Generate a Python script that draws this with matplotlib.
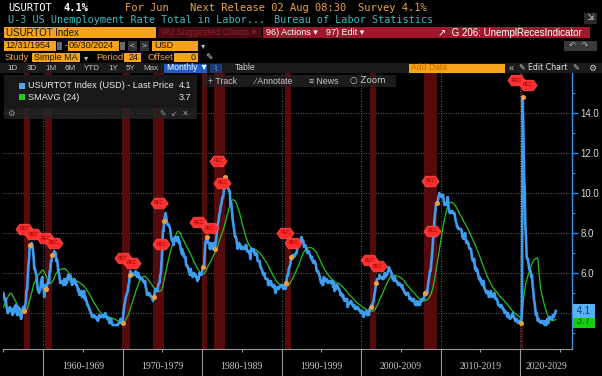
import pandas as pd
import matplotlib
matplotlib.use("Agg")
import matplotlib.pyplot as plt
import matplotlib.transforms as mtransforms
from matplotlib.patches import Rectangle
from matplotlib.path import Path
from matplotlib.ticker import FixedLocator, NullFormatter

# monthly U-3 unemployment rate (%), Jan 1953 - Jun 2024
# (1953-54 only feeds the 24 month average, the chart starts 12/31/1954)
rate_1950s = [
    3.4, 2.9, 2.6, 2.7, 2.5, 2.5, 2.6, 2.7, 2.9, 3.1, 3.5, 4.5,
    4.9, 5.2, 5.7, 5.9, 5.9, 5.6, 5.8, 6.0, 6.1, 5.7, 5.3, 5.0,
    4.9, 4.7, 4.6, 4.7, 4.3, 4.2, 4.0, 4.2, 4.1, 4.3, 4.2, 4.2,
    4.0, 3.9, 4.2, 4.0, 4.3, 4.3, 4.4, 4.1, 3.9, 3.9, 4.3, 4.2,
    4.2, 3.9, 3.7, 3.9, 4.1, 4.3, 4.2, 4.1, 4.4, 4.5, 5.1, 5.2,
    5.8, 6.4, 6.7, 7.4, 7.4, 7.3, 7.5, 7.4, 7.1, 6.7, 6.2, 6.2,
    6.0, 5.9, 5.6, 5.2, 5.1, 5.0, 5.1, 5.2, 5.5, 5.7, 5.8, 5.3,
]
rate_1960s = [
    5.2, 4.8, 5.4, 5.2, 5.1, 5.4, 5.5, 5.6, 5.5, 6.1, 6.1, 6.6,
    6.6, 6.9, 6.9, 7.0, 7.1, 6.9, 7.0, 6.6, 6.7, 6.5, 6.1, 6.0,
    5.8, 5.5, 5.6, 5.6, 5.5, 5.5, 5.4, 5.7, 5.6, 5.4, 5.7, 5.5,
    5.7, 5.9, 5.7, 5.7, 5.9, 5.6, 5.6, 5.4, 5.5, 5.5, 5.7, 5.5,
    5.6, 5.4, 5.4, 5.3, 5.1, 5.2, 4.9, 5.0, 5.1, 5.1, 4.8, 5.0,
    4.9, 5.1, 4.7, 4.8, 4.6, 4.6, 4.4, 4.4, 4.3, 4.2, 4.1, 4.0,
    4.0, 3.8, 3.8, 3.8, 3.9, 3.8, 3.8, 3.8, 3.7, 3.7, 3.6, 3.8,
    3.9, 3.8, 3.8, 3.8, 3.8, 3.9, 3.8, 3.8, 3.8, 4.0, 3.9, 3.8,
    3.7, 3.8, 3.7, 3.5, 3.5, 3.7, 3.7, 3.5, 3.4, 3.4, 3.4, 3.4,
    3.4, 3.4, 3.4, 3.4, 3.4, 3.5, 3.5, 3.5, 3.7, 3.7, 3.5, 3.5,
]
rate_1970s = [
    3.9, 4.2, 4.4, 4.6, 4.8, 4.9, 5.0, 5.1, 5.4, 5.5, 5.9, 6.1,
    5.9, 5.9, 6.0, 5.9, 5.9, 5.9, 6.0, 6.1, 6.0, 5.8, 6.0, 6.0,
    5.8, 5.7, 5.8, 5.7, 5.7, 5.7, 5.6, 5.6, 5.5, 5.6, 5.3, 5.2,
    4.9, 5.0, 4.9, 5.0, 4.9, 4.9, 4.8, 4.8, 4.8, 4.6, 4.8, 4.9,
    5.1, 5.2, 5.1, 5.1, 5.1, 5.4, 5.5, 5.5, 5.9, 6.0, 6.6, 7.2,
    8.1, 8.1, 8.6, 8.8, 9.0, 8.8, 8.6, 8.4, 8.4, 8.4, 8.3, 8.2,
    7.9, 7.7, 7.6, 7.7, 7.4, 7.6, 7.8, 7.8, 7.6, 7.7, 7.8, 7.8,
    7.5, 7.6, 7.4, 7.2, 7.0, 7.2, 6.9, 7.0, 6.8, 6.8, 6.8, 6.4,
    6.4, 6.3, 6.3, 6.1, 6.0, 5.9, 6.2, 5.9, 6.0, 5.8, 5.9, 6.0,
    5.9, 5.9, 5.8, 5.8, 5.6, 5.7, 5.7, 6.0, 5.9, 6.0, 5.9, 6.0,
]
rate_1980s = [
    6.3, 6.3, 6.3, 6.9, 7.5, 7.6, 7.8, 7.7, 7.5, 7.5, 7.5, 7.2,
    7.5, 7.4, 7.4, 7.2, 7.5, 7.5, 7.2, 7.4, 7.6, 7.9, 8.3, 8.5,
    8.6, 8.9, 9.0, 9.3, 9.4, 9.6, 9.8, 9.8, 10.1, 10.4, 10.8, 10.8,
    10.4, 10.4, 10.3, 10.2, 10.1, 10.1, 9.4, 9.5, 9.2, 8.8, 8.5, 8.3,
    8.0, 7.8, 7.8, 7.7, 7.4, 7.2, 7.5, 7.5, 7.3, 7.4, 7.2, 7.3,
    7.3, 7.2, 7.2, 7.3, 7.2, 7.4, 7.4, 7.1, 7.1, 7.1, 7.0, 7.0,
    6.7, 7.2, 7.2, 7.1, 7.2, 7.2, 7.0, 6.9, 7.0, 7.0, 6.9, 6.6,
    6.6, 6.6, 6.6, 6.3, 6.3, 6.2, 6.1, 6.0, 5.9, 6.0, 5.8, 5.7,
    5.7, 5.7, 5.7, 5.4, 5.6, 5.4, 5.4, 5.6, 5.4, 5.4, 5.3, 5.3,
    5.4, 5.2, 5.0, 5.2, 5.2, 5.3, 5.2, 5.2, 5.3, 5.3, 5.4, 5.4,
]
rate_1990s = [
    5.4, 5.3, 5.2, 5.4, 5.4, 5.2, 5.5, 5.7, 5.9, 5.9, 6.2, 6.3,
    6.4, 6.6, 6.8, 6.7, 6.9, 6.9, 6.8, 6.9, 6.9, 7.0, 7.0, 7.3,
    7.3, 7.4, 7.4, 7.4, 7.6, 7.8, 7.7, 7.6, 7.6, 7.3, 7.4, 7.4,
    7.3, 7.1, 7.0, 7.1, 7.1, 7.0, 6.9, 6.8, 6.7, 6.8, 6.6, 6.5,
    6.6, 6.6, 6.5, 6.4, 6.1, 6.1, 6.1, 6.0, 5.9, 5.8, 5.6, 5.5,
    5.6, 5.4, 5.4, 5.8, 5.6, 5.6, 5.7, 5.7, 5.6, 5.5, 5.6, 5.6,
    5.6, 5.5, 5.5, 5.6, 5.6, 5.3, 5.5, 5.1, 5.2, 5.2, 5.4, 5.4,
    5.3, 5.2, 5.2, 5.1, 4.9, 5.0, 4.9, 4.8, 4.9, 4.7, 4.6, 4.7,
    4.6, 4.6, 4.7, 4.3, 4.4, 4.5, 4.5, 4.5, 4.6, 4.5, 4.4, 4.4,
    4.3, 4.4, 4.2, 4.3, 4.2, 4.3, 4.3, 4.2, 4.2, 4.1, 4.1, 4.0,
]
rate_2000s = [
    4.0, 4.1, 4.0, 3.8, 4.0, 4.0, 4.0, 4.1, 3.9, 3.9, 3.9, 3.9,
    4.2, 4.2, 4.3, 4.4, 4.3, 4.5, 4.6, 4.9, 5.0, 5.3, 5.5, 5.7,
    5.7, 5.7, 5.7, 5.9, 5.8, 5.8, 5.8, 5.7, 5.7, 5.7, 5.9, 6.0,
    5.8, 5.9, 5.9, 6.0, 6.1, 6.3, 6.2, 6.1, 6.1, 6.0, 5.8, 5.7,
    5.7, 5.6, 5.8, 5.6, 5.6, 5.6, 5.5, 5.4, 5.4, 5.5, 5.4, 5.4,
    5.3, 5.4, 5.2, 5.2, 5.1, 5.0, 5.0, 4.9, 5.0, 5.0, 5.0, 4.9,
    4.7, 4.8, 4.7, 4.7, 4.6, 4.6, 4.7, 4.7, 4.5, 4.4, 4.5, 4.4,
    4.6, 4.5, 4.4, 4.5, 4.4, 4.6, 4.7, 4.6, 4.7, 4.7, 4.7, 5.0,
    5.0, 4.9, 5.1, 5.0, 5.4, 5.6, 5.8, 6.1, 6.1, 6.5, 6.8, 7.3,
    7.8, 8.3, 8.7, 9.0, 9.4, 9.5, 9.5, 9.6, 9.8, 10.0, 9.9, 9.9,
]
rate_2010s = [
    9.8, 9.8, 9.9, 9.9, 9.6, 9.4, 9.4, 9.5, 9.5, 9.4, 9.8, 9.3,
    9.1, 9.0, 9.0, 9.1, 9.0, 9.1, 9.0, 9.0, 9.0, 8.8, 8.6, 8.5,
    8.3, 8.3, 8.2, 8.2, 8.2, 8.2, 8.2, 8.1, 7.8, 7.8, 7.7, 7.9,
    8.0, 7.7, 7.5, 7.6, 7.5, 7.5, 7.3, 7.2, 7.2, 7.2, 6.9, 6.7,
    6.6, 6.7, 6.7, 6.2, 6.3, 6.1, 6.2, 6.1, 5.9, 5.7, 5.8, 5.6,
    5.7, 5.5, 5.4, 5.4, 5.6, 5.3, 5.2, 5.1, 5.0, 5.0, 5.1, 5.0,
    4.8, 4.9, 5.0, 5.1, 4.8, 4.9, 4.8, 4.9, 5.0, 4.9, 4.7, 4.7,
    4.7, 4.6, 4.4, 4.4, 4.4, 4.3, 4.3, 4.4, 4.3, 4.2, 4.2, 4.1,
    4.0, 4.1, 4.0, 4.0, 3.8, 4.0, 3.8, 3.8, 3.7, 3.8, 3.8, 3.9,
    4.0, 3.8, 3.8, 3.7, 3.6, 3.6, 3.7, 3.6, 3.5, 3.6, 3.6, 3.6,
]
rate_2020s = [
    3.5, 3.5, 4.4, 14.8, 13.2, 11.0, 10.2, 8.4, 7.8, 6.8, 6.7, 6.7,
    6.4, 6.2, 6.1, 6.1, 5.8, 5.9, 5.4, 5.1, 4.7, 4.5, 4.2, 3.9,
    4.0, 3.8, 3.6, 3.7, 3.6, 3.6, 3.5, 3.6, 3.5, 3.6, 3.6, 3.5,
    3.4, 3.6, 3.5, 3.4, 3.7, 3.6, 3.5, 3.8, 3.8, 3.8, 3.7, 3.7,
    3.7, 3.9, 3.8, 3.9, 4.0, 4.1,
]

# NBER recessions (first month, last month)
rec_start = ["1957-08", "1960-04", "1969-12", "1973-11", "1980-01",
             "1981-07", "1990-07", "2001-03", "2007-12", "2020-02"]
rec_end = ["1958-04", "1961-02", "1970-11", "1975-03", "1980-07",
           "1982-11", "1991-03", "2001-11", "2009-06", "2020-04"]

# "REC" flags as they sit on the chart
flag_dates = ["1957-08", "1958-10", "1960-04", "1961-05", "1970-01", "1971-03",
              "1974-07", "1974-11", "1979-07", "1980-12", "1982-01", "1982-07",
              "1990-06", "1991-06", "2001-01", "2002-02", "2008-09", "2008-12",
              "2019-07", "2020-12"]
flag_levels = [8.2, 7.95, 7.75, 7.5, 6.75, 6.5, 9.5, 7.45, 8.55, 8.25,
               11.6, 10.5, 8.0, 7.5, 6.65, 6.35, 10.6, 8.1, 15.65, 15.4]

decades = [1960, 1970, 1980, 1990, 2000, 2010, 2020]
y_ticks = [4, 6, 8, 10, 12, 14]

rate = rate_1950s + rate_1960s + rate_1970s + rate_1980s + rate_1990s + rate_2000s + rate_2010s + rate_2020s
months = pd.period_range("1953-01", periods=len(rate), freq="M")
s = pd.Series(rate, index=months)
sma = s.rolling(24).mean()
dates = months.to_timestamp(how="end").normalize()
show = months >= pd.Period("1954-12", "M")

W, H = 602, 376
SANS = ["Liberation Sans", "DejaVu Sans"]
MONO = ["DejaVu Sans Mono", "DejaVu Sans"]
SYM = ["DejaVu Sans", "Noto Sans"]
ORANGE = "#f5a31c"
AMBER_TXT = "#f0a43c"
TEAL = "#3bbcc4"
BLUE = "#3d9df0"
GREEN = "#22c022"


def fx(x):
    return x / W


def fy(y):
    return 1 - y / H


def rect(x0, y0, x1, y1, color, alpha=1.0, z=1):
    fig.add_artist(Rectangle((fx(x0), fy(y1)), (x1 - x0) / W, (y1 - y0) / H,
                             transform=fig.transFigure, facecolor=color,
                             edgecolor="none", alpha=alpha, zorder=z))


def txt(x, y, s_, color, size, family=SANS, z=5, **kw):
    fig.text(fx(x), fy(y), s_, color=color, fontsize=size, family=family,
             va="center", zorder=z, **kw)


fig = plt.figure(figsize=(6.02, 3.76), dpi=100, facecolor="black")
ax = fig.add_axes([fx(3), fy(349), (572 - 3) / W, (349 - 73) / H])
ax.set_facecolor("black")

# recession bands
for a, b in zip(rec_start, rec_end):
    ax.axvspan(pd.Period(a, "M").to_timestamp(how="start"),
               pd.Period(b, "M").to_timestamp(how="end"),
               color="#5a0c0c", alpha=0.95, lw=0, zorder=1)

ax.plot(dates[show], sma[show], color=GREEN, lw=0.9, zorder=3)
ax.plot(dates[show], s[show], color=BLUE, lw=1.9, zorder=4)

# orange dots where each recession starts and ends
dot_p = [pd.Period(d, "M") for d in rec_start + rec_end]
ax.plot([p.to_timestamp(how="end").normalize() for p in dot_p], [s[p] for p in dot_p],
        "o", ms=2.6, color="#e8a040", zorder=5)

# REC flags
flag_shape = Path([(-1, 0), (-0.55, 0.62), (0.55, 0.62), (1, 0), (0.55, -0.62),
                   (-0.55, -0.62), (-1, 0)], closed=True)
flag_x = [pd.Timestamp(d + "-15") for d in flag_dates]
ax.plot(flag_x, flag_levels, ls="none", marker=flag_shape, ms=12.5,
        color="#ff2e2e", mec="#ff5a5a", mew=0.4, zorder=6)
for fx_, fl in zip(flag_x, flag_levels):
    ax.text(fx_, fl, "REC", fontsize=3.4, color="#8a0000", ha="center",
            va="center", zorder=7, family=SANS)

ax.set_xlim(pd.Timestamp("1954-12-20"), pd.Timestamp("2026-07-15"))
ax.set_ylim(2.2, 16.0)

# axes styling
for side in ["left", "top"]:
    ax.spines[side].set_visible(False)
ax.spines["right"].set_color("#3a8ee0")
ax.spines["right"].set_linewidth(1.0)
ax.spines["bottom"].set_color("#9a9a9a")
ax.spines["bottom"].set_linewidth(0.8)

ax.yaxis.tick_right()
ax.set_yticks(y_ticks)
ax.set_yticklabels(["" if v == 4 else f"{v:.1f}" for v in y_ticks])
ax.yaxis.set_minor_locator(FixedLocator([3, 5, 7, 9, 11, 13, 15]))
ax.tick_params(axis="y", which="major", colors="#3a8ee0", length=4, width=1.0,
               labelcolor="#dcdcdc", labelsize=7, pad=2)
ax.tick_params(axis="y", which="minor", colors="#3a8ee0", length=2, width=0.8)
for lab in ax.get_yticklabels():
    lab.set_family(SANS)

dec_x = [pd.Timestamp(f"{d}-01-01") for d in decades]
ax.set_xticks(dec_x)
ax.xaxis.set_major_formatter(NullFormatter())
ax.xaxis.set_minor_locator(FixedLocator(matplotlib.dates.date2num(
    [pd.Timestamp(f"{d}-01-01") for d in [1955] + [d + 5 for d in decades]])))
ax.tick_params(axis="x", which="major", colors="#9a9a9a", length=19.5, width=0.8)
ax.tick_params(axis="x", which="minor", colors="#9a9a9a", length=2, width=0.8)

ax.grid(True, which="major", axis="both", color="#8a8a8a", ls=(0, (1, 2)), lw=0.6)
ax.set_axisbelow(True)

# decade labels centred on the visible part of each decade
xl = ax.get_xlim()
tr = mtransforms.blended_transform_factory(ax.transData, ax.transAxes)
for d in decades:
    a = max(matplotlib.dates.date2num(pd.Timestamp(f"{d}-01-01")), xl[0])
    b = min(matplotlib.dates.date2num(pd.Timestamp(f"{d + 10}-01-01")), xl[1])
    ax.text((a + b) / 2, -0.062, f"{d}-{d + 9}", transform=tr, ha="center",
            va="center", fontsize=7, color="#c8c8c8",
            family=["Liberation Serif", "DejaVu Serif"], clip_on=False)

# last value tags on the right axis (the SMA tag is nudged down so they stack)
ty = mtransforms.blended_transform_factory(ax.transAxes, ax.transData)
ax.text(1.004, s.iloc[-1], f" {s.iloc[-1]:.1f} ", transform=ty, fontsize=7,
        color="#0b3f75", va="center", ha="left", family=SANS, zorder=10, clip_on=False,
        bbox=dict(boxstyle="square,pad=0.18", fc="#5ab0f5", ec="none"))
ax.text(1.004, s.iloc[-1] - 0.52, f" {sma.iloc[-1]:.1f} ", transform=ty, fontsize=7,
        color="#0a4a0a", va="center", ha="left", family=SANS, zorder=9, clip_on=False,
        bbox=dict(boxstyle="square,pad=0.18", fc="#10d010", ec="none"))

# ---- Bloomberg header ----
txt(8, 8, "USURTOT", "#ffffff", 7.5, MONO)
txt(64, 8, "4.1%", "#ffffff", 7.5, MONO, weight="bold")
txt(125, 8, "For Jun", AMBER_TXT, 7.5, MONO)
txt(190, 8, "Next Release 02 Aug 08:30", AMBER_TXT, 7.5, MONO)
txt(358, 8, "Survey 4.1%", AMBER_TXT, 7.5, MONO)
txt(8, 20, "U-3 US Unemployment Rate Total in Labor...", TEAL, 7.3, MONO)
txt(274, 20, "Bureau of Labor Statistics", TEAL, 7.3, MONO)
rect(584, 13, 597, 24, "#2a2a2a")
txt(586, 18, "⇲", "#d0d0d0", 6.5, SYM)

rect(4, 27, 156, 38, ORANGE)
txt(6, 32.5, "USURTOT Index", "#1a1206", 7)
rect(158, 27, 262, 38, "#4a0a12")
txt(161, 32.5, "96) Suggested Charts ▾", "#8c1e2c", 6.5)
rect(263, 27, 590, 38, "#a3172b")
txt(266, 32.5, "96) Actions ▾", "#ffffff", 6.5)
txt(326, 32.5, "97) Edit ▾", "#ffffff", 6.5)
txt(438, 32.5, "↗  G 206: UnemplRecesIndicator", "#ffffff", 7)

rect(4, 41, 56, 51, ORANGE)
txt(5, 46, "12/31/1954", "#1a1206", 6.5)
rect(57, 42, 62, 50, "#6a6a6a")
txt(64.5, 46, "-", "#d0d0d0", 6.5)
rect(68, 41, 119, 51, ORANGE)
txt(69, 46, "06/30/2024", "#1a1206", 6.5)
rect(120, 42, 125, 50, "#6a6a6a")
rect(128, 41, 137, 51, "#333333")
txt(130, 46, "<", "#d0d0d0", 6)
rect(140, 41, 149, 51, "#333333")
txt(142, 46, ">", "#d0d0d0", 6)
rect(152, 41, 198, 51, ORANGE)
txt(154, 46, "USD", "#1a1206", 6.5)
txt(201, 46, "▾", "#bbbbbb", 6, SYM)
rect(564, 41, 597, 51, "#3a3a3a")
txt(569, 46, "↶  ↷", "#b0b0b0", 6, SYM)

txt(5, 57.5, "Study", AMBER_TXT, 6.8)
rect(32, 53, 80, 62, ORANGE)
txt(34, 57.5, "Simple MA", "#1a1206", 6.5)
txt(84, 57.5, "▾", "#bbbbbb", 6, SYM)
txt(96, 57.5, "Period", AMBER_TXT, 6.8)
rect(124, 53, 141, 62, ORANGE)
txt(139, 57.5, "24", "#1a1206", 6.5, ha="right")
txt(148, 57.5, "Offset", AMBER_TXT, 6.8)
rect(174, 53, 198, 62, ORANGE)
txt(196, 57.5, "0", "#1a1206", 6.5, ha="right")
txt(205, 57.5, "✎", "#e0e0e0", 6.5, SYM)

rect(0, 63, 602, 73, "#1b1b1b")
for lbl, xc in zip(["1D", "3D", "1M", "6M", "YTD", "1Y", "5Y", "Max"],
                   [13, 32, 51, 70, 92, 113, 131, 151]):
    txt(xc, 68, lbl, "#c0c0c0", 5.8, ha="center")
rect(164, 63.5, 207, 72.5, "#1f5cc4")
txt(167, 68, "Monthly ▼", "#ffffff", 6.2)
rect(210, 63.5, 222, 72.5, "#1a3a70")
txt(216, 68, "⌇", "#6aa8ff", 6, SYM, ha="center")
txt(235, 68, "Table", "#d0d0d0", 6.2)
rect(409, 63.5, 505, 72.5, ORANGE)
txt(411, 68, "Add Data", "#c86a00", 6.2)
txt(509, 68, "«", "#d0d0d0", 6.5)
txt(519, 68, "✎ Edit Chart", "#e0e0e0", 5.6, SYM)
txt(572, 68, "✎", "#d0d0d0", 6, SYM)
txt(588, 68, "⚙", "#d0d0d0", 6.5, SYM)

# floating tool bar over the plot
rect(203, 75, 396, 87, "#262626", alpha=0.75, z=6)
txt(208, 81, "+ Track", "#c8c8c8", 6.3, z=7)
txt(255, 81, "⁄ Annotate", "#c8c8c8", 6.3, z=7)
txt(309, 81, "≡ News", "#c8c8c8", 6.3, z=7)
txt(350, 81, "○ Zoom", "#c8c8c8", 6.3, SYM, z=7)

# legend panel
rect(4, 75, 197, 108, "#181818", z=6)
rect(4, 108, 197, 119, "#262626", alpha=0.8, z=6)
rect(19, 83, 25, 89, "#4aa8f5", z=7)
txt(28, 86, "USURTOT Index (USD) - Last Price", "#e8e8e8", 6.6, z=7)
txt(191, 86, f"{s.iloc[-1]:.1f}", "#e8e8e8", 6.6, z=7, ha="right")
rect(19, 94, 25, 100, "#1ed01e", z=7)
txt(28, 97, "SMAVG (24)", "#e8e8e8", 6.6, z=7)
txt(191, 97, f"{sma.iloc[-1]:.1f}", "#e8e8e8", 6.6, z=7, ha="right")
txt(7, 113.5, "⚙", "#9a9a9a", 6, SYM, z=7)
txt(160, 113.5, "✎  ↙  ✕", "#9a9a9a", 5.5, SYM, z=7)

fig.savefig("out.png", dpi=100, facecolor="black")
